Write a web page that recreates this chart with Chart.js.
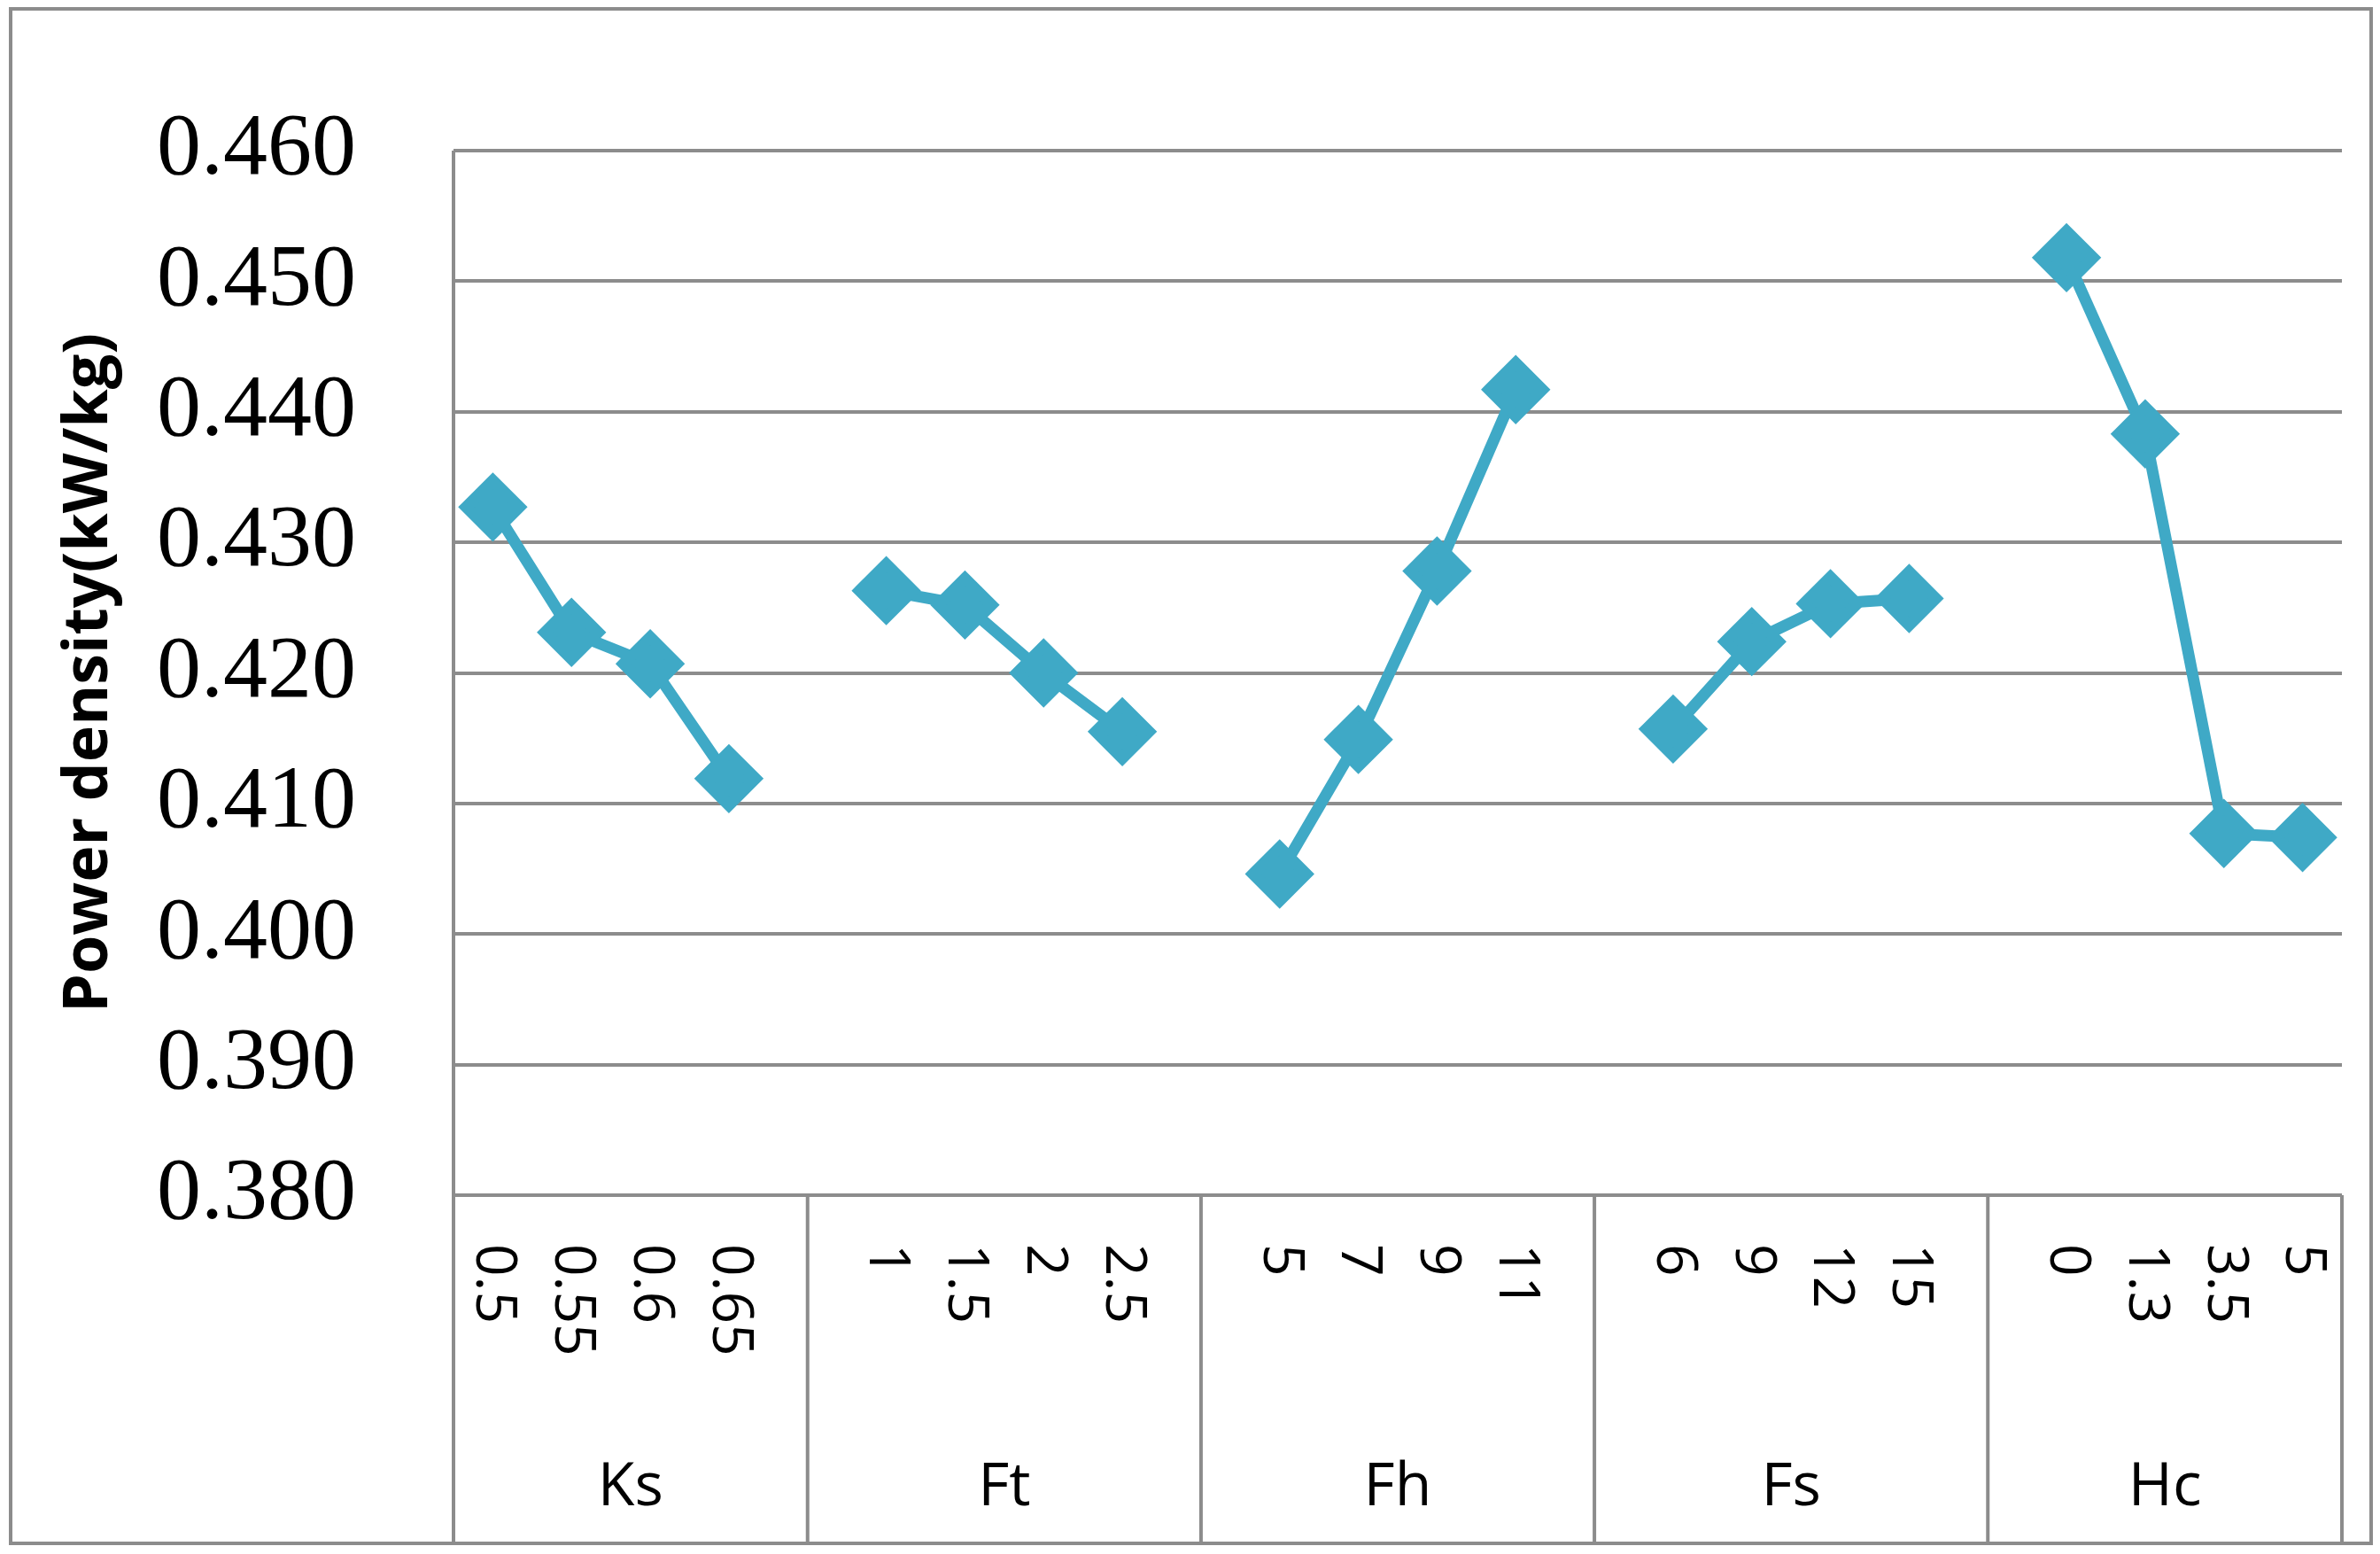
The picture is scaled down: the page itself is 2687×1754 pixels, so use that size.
<!DOCTYPE html>
<html><head><meta charset="utf-8">
<script src="https://cdn.jsdelivr.net/npm/chart.js@4"></script>
<style>body{margin:0;background:#fff}</style>
</head><body>
<canvas id="c" width="2687" height="1754"></canvas>
<script>
// 4 levels per factor, one empty slot between factors
const groups = ['Ks', 'Ft', 'Fh', 'Fs', 'Hc'];
const levels = [
    ['0.5', '0.55', '0.6', '0.65'],
    ['1', '1.5', '2', '2.5'],
    ['5', '7', '9', '11'],
    ['6', '9', '12', '15'],
    ['0', '1.3', '3.5', '5']
];
const values = [
    [0.4327, 0.4231, 0.4207, 0.4119],
    [0.4263, 0.4252, 0.4200, 0.4155],
    [0.4046, 0.4149, 0.4278, 0.4417],
    [0.4157, 0.4224, 0.4253, 0.4257],
    [0.4518, 0.4383, 0.4077, 0.4074]
];
const yTicks = [0.38, 0.39, 0.40, 0.41, 0.42, 0.43, 0.44, 0.45, 0.46];

const labels = [], data = [];
groups.forEach((g, i) => {
    levels[i].forEach((l, j) => { labels.push(l); data.push(values[i][j]); });
    if (i < groups.length - 1) { labels.push(''); data.push(null); }
});

const gridColor = '#8c8c8c';

const tablePlugin = {
    id: 'table',
    afterDraw(chart) {
        const ctx = chart.ctx, x = chart.scales.x, a = chart.chartArea;
        const H = chart.height, W = chart.width;
        ctx.save();
        ctx.strokeStyle = gridColor; ctx.lineWidth = 4;
        ctx.strokeRect(12, 10, W - 22, H - 22);
        const step = x.getPixelForValue(1) - x.getPixelForValue(0);
        const edges = [a.left];
        for (let i = 1; i < groups.length; i++) edges.push(x.getPixelForValue(i * 5 - 1));
        edges.push(a.right);
        ctx.lineWidth = 4;
        edges.forEach((e, i) => {
            ctx.beginPath(); ctx.moveTo(e, i === 0 ? a.top : a.bottom); ctx.lineTo(e, H - 12); ctx.stroke();
        });
        ctx.beginPath(); ctx.moveTo(a.left, a.bottom); ctx.lineTo(a.right, a.bottom); ctx.stroke();
        ctx.fillStyle = '#000';
        ctx.font = '64px "Open Sans", sans-serif';
        labels.forEach((l, i) => {
            if (!l) return;
            ctx.save();
            ctx.translate(x.getPixelForValue(i), a.bottom + 55);
            ctx.rotate(Math.PI / 2);
            ctx.textAlign = 'left'; ctx.textBaseline = 'middle';
            ctx.fillText(l, 0, 0);
            ctx.restore();
        });
        ctx.font = '68px "Open Sans", sans-serif';
        ctx.textAlign = 'center'; ctx.textBaseline = 'middle';
        groups.forEach((g, i) => ctx.fillText(g, (edges[i] + edges[i + 1]) / 2, 1680));
        ctx.restore();
    }
};

new Chart(document.getElementById('c'), {
    type: 'line',
    data: {
        labels: labels,
        datasets: [{
            data: data,
            borderColor: '#3fa9c6',
            backgroundColor: '#3fa9c6',
            borderWidth: 13,
            pointStyle: 'rectRot',
            pointRadius: 30,
            spanGaps: false,
            tension: 0
        }]
    },
    options: {
        responsive: false,
        devicePixelRatio: 1,
        animation: false,
        layout: { padding: { top: 75, right: 36, left: 55, bottom: 0 } },
        plugins: { legend: { display: false }, tooltip: { enabled: false } },
        scales: {
            x: {
                offset: true,
                ticks: { display: false },
                grid: { display: false },
                border: { display: false },
                afterFit: s => { s.height = 405; }
            },
            y: {
                min: 0.38, max: 0.46,
                afterBuildTicks: s => { s.ticks = yTicks.map(v => ({ value: v })); },
                ticks: {
                    callback: v => v.toFixed(3),
                    color: '#000',
                    font: { family: '"Liberation Serif", serif', size: 100 },
                    padding: 110
                },
                grid: { color: gridColor, lineWidth: 4, drawTicks: false },
                border: { display: false },
                title: {
                    display: true,
                    text: 'Power density(kW/kg)',
                    color: '#000',
                    font: { family: '"Open Sans", sans-serif', size: 70, weight: 'bold' }
                },
                afterFit: s => { s.width = 457; }
            }
        }
    },
    plugins: [tablePlugin]
});
</script>
</body></html>
